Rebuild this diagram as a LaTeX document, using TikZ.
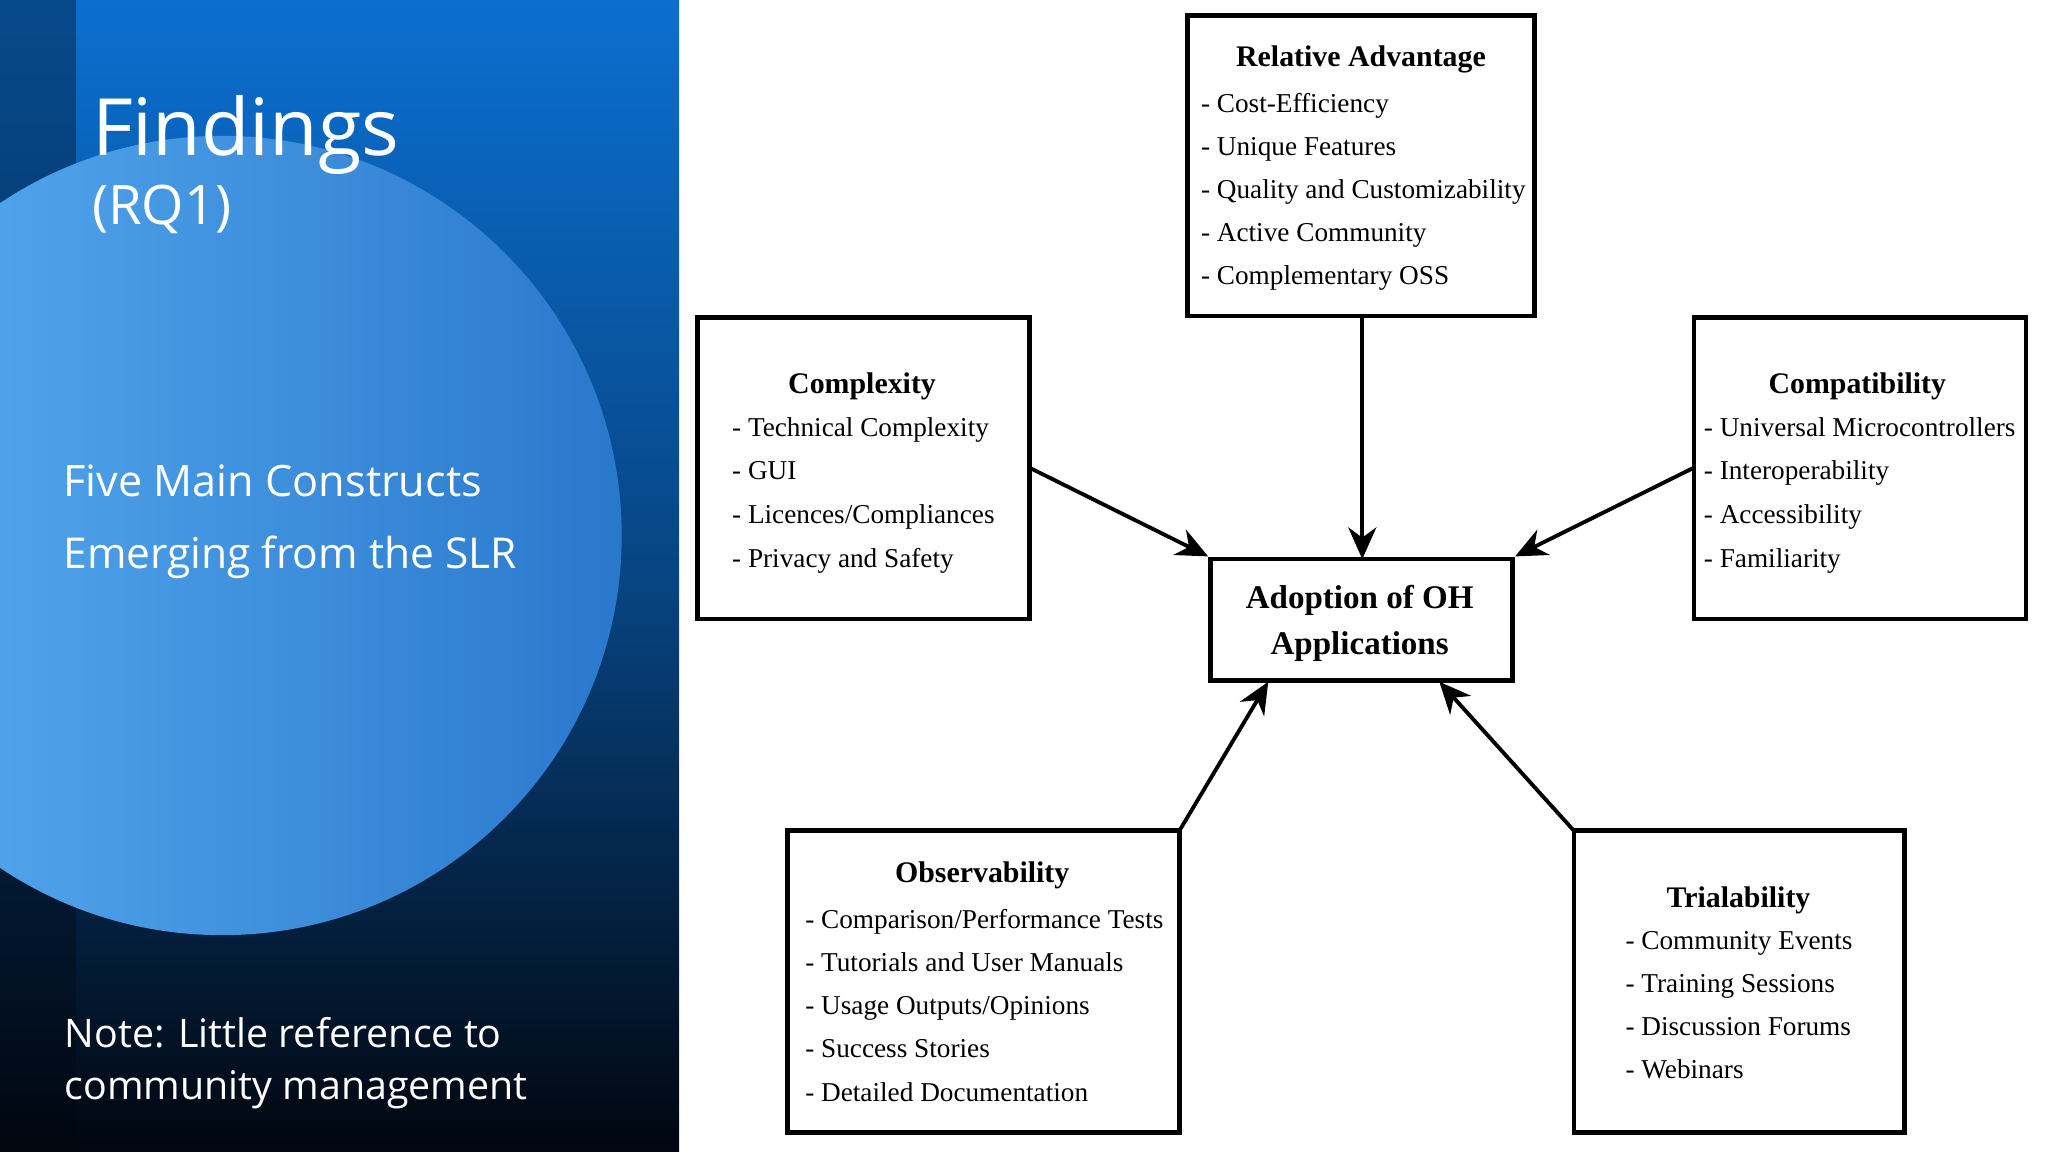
\documentclass[tikz,border=0pt]{standalone}
\usepackage{fontspec}
\setmainfont{Liberation Serif}
\newfontfamily\slide{Open Sans}
\usetikzlibrary{arrows.meta}
\definecolor{pblue}{HTML}{0B6FD0}
\definecolor{pdark}{HTML}{01060F}
\definecolor{cblue}{HTML}{5AAEF2}
\definecolor{cblue2}{HTML}{2A78CC}
\begin{document}
\begin{tikzpicture}[x=0.013061cm,y=-0.013061cm,
  box/.style={draw,line width=1.3pt,inner sep=0pt},
  ttl/.style={font=\fontsize{8.5}{10}\selectfont\bfseries,anchor=base},
  itm/.style={font=\fontsize{7.75}{10}\selectfont,anchor=base west,inner sep=0pt},
  arr/.style={line width=1.1pt,-{Stealth[length=9pt,width=8pt]}},
  wt/.style={text=white,anchor=base west,inner sep=0pt}]
\useasboundingbox (0,0) rectangle (1568,882);
% left panel
\begin{scope}
\clip (0,0) rectangle (520,882);
\shade[top color=pblue,bottom color=pdark,middle color=pblue!60!pdark] (0,0) rectangle (520,882);
\fill[pdark,opacity=0.35] (0,0) rectangle (58,882);
\shade[shading=axis,shading angle=135,left color=cblue,right color=cblue2] (170,410) circle (306);
\end{scope}
\node[wt,font=\slide\fontsize{22.5}{26}\selectfont] (f) at (70,119) {Findings};
\node[wt,font=\slide\fontsize{15.5}{18}\selectfont] (rq) at (70,172) {(RQ1)};
\node[wt,font=\slide\fontsize{12.3}{15}\selectfont] (t1) at (48,380) {Five Main Constructs};
\node[wt,font=\slide\fontsize{12.1}{15}\selectfont] (t2) at (48,435) {Emerging from the SLR};
\node[wt,font=\slide\fontsize{11.2}{15}\selectfont] (n1) at (49,802) {Note: Little reference to};
\node[wt,font=\slide\fontsize{11.2}{15}\selectfont] (n2) at (49,842) {community management};
% boxes
\draw[box] (909,12) rectangle (1175,242); \coordinate (ra) at (1043,242);
\draw[box] (534,243) rectangle (788,474); \coordinate (cx) at (788,358);
\draw[box] (1297,243) rectangle (1551,474); \coordinate (cp) at (1297,358);
\draw[box] (927,428) rectangle (1158,521);
\draw[box] (603,636) rectangle (903,867); \coordinate (ob) at (903,636);
\draw[box] (1205,636) rectangle (1458,867); \coordinate (tr) at (1205,636);
\coordinate (ctop) at (1043,428); \coordinate (cl) at (925,426); \coordinate (cr) at (1160,426);
\coordinate (cbl) at (971,522); \coordinate (cbr) at (1102,522);
\node[font=\fontsize{9.4}{12}\selectfont\bfseries,anchor=base] (ct1) at (1041,466) {Adoption of OH};
\node[font=\fontsize{9.4}{12}\selectfont\bfseries,anchor=base] (ct2) at (1041,501) {Applications};
% texts
\node[ttl] (rat) at (1042,51) {Relative Advantage};
\foreach \t [count=\i from 0] in {Cost-Efficiency,Unique Features,Quality and Customizability,Active Community,Complementary OSS}
  \node[itm] (ra\i) at (919,{86+\i*33}) {- \t};
\node[ttl] (cxt) at (660,301) {Complexity};
\foreach \t [count=\i from 0] in {Technical Complexity,GUI,Licences/Compliances,Privacy and Safety}
  \node[itm] (cx\i) at (560,{334+\i*33.5}) {- \t};
\node[ttl] (cpt) at (1422,301) {Compatibility};
\foreach \t [count=\i from 0] in {Universal Microcontrollers,Interoperability,Accessibility,Familiarity}
  \node[itm] (cp\i) at (1304,{334+\i*33.5}) {- \t};
\node[ttl] (obt) at (752,676) {Observability};
\foreach \t [count=\i from 0] in {Comparison/Performance Tests,Tutorials and User Manuals,Usage Outputs/Opinions,Success Stories,Detailed Documentation}
  \node[itm] (ob\i) at (616,{711+\i*33}) {- \t};
\node[ttl] (trt) at (1331,695) {Trialability};
\foreach \t [count=\i from 0] in {Community Events,Training Sessions,Discussion Forums,Webinars}
  \node[itm] (tr\i) at (1244,{727+\i*33}) {- \t};
% arrows
\draw[arr] (ra) -- (ctop);
\draw[arr] (cx) -- (cl);
\draw[arr] (cp) -- (cr);
\draw[arr] (ob) -- (cbl);
\draw[arr] (tr) -- (cbr);
\end{tikzpicture}
\end{document}
